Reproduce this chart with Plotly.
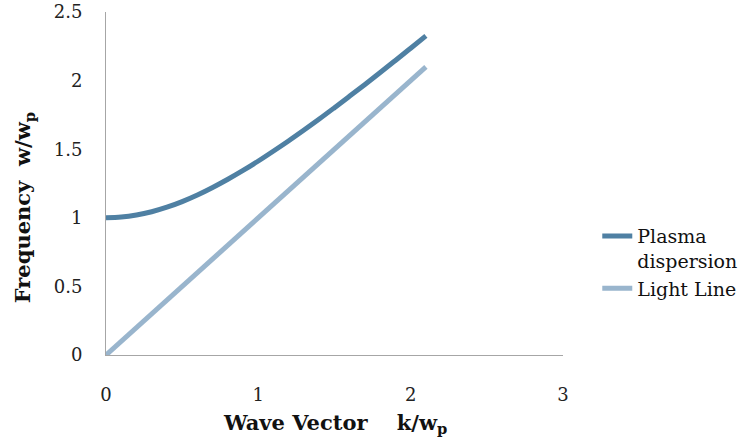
import plotly.graph_objects as go

# Normalized wave vector k/wp
k_vals = [0.0, 0.1, 0.2, 0.3, 0.4, 0.5, 0.6, 0.7, 0.8, 0.9, 1.0,
          1.1, 1.2, 1.3, 1.4, 1.5, 1.6, 1.7, 1.8, 1.9, 2.0, 2.1]
# Plasma dispersion frequency w/wp
plasma_w = [1.000, 1.005, 1.020, 1.044, 1.077, 1.118, 1.166, 1.221, 1.281, 1.345, 1.414,
            1.487, 1.562, 1.640, 1.720, 1.803, 1.887, 1.972, 2.059, 2.147, 2.236, 2.326]
# Light line w = k
light_w = [0.0, 0.1, 0.2, 0.3, 0.4, 0.5, 0.6, 0.7, 0.8, 0.9, 1.0,
           1.1, 1.2, 1.3, 1.4, 1.5, 1.6, 1.7, 1.8, 1.9, 2.0, 2.1]

x_ticks = [0, 1, 2, 3]
y_ticks = [0, 0.5, 1, 1.5, 2, 2.5]
y_tick_text = ["0", "0.5", "1", "1.5", "2", "2.5"]

FONT = "DejaVu Serif"

fig = go.Figure()
fig.add_trace(go.Scatter(
    x=k_vals, y=plasma_w, mode="lines", name="Plasma<br>dispersion",
    legendgroup="plasma",
    line=dict(color="#4f80a3", width=5, shape="spline"),
))
fig.add_trace(go.Scatter(
    x=k_vals, y=light_w, mode="lines", name="Light Line",
    legendgroup="light",
    line=dict(color="#99b5cd", width=5),
))

fig.update_layout(
    width=742, height=444,
    margin=dict(l=106, r=179, t=12, b=89, autoexpand=False),
    paper_bgcolor="white", plot_bgcolor="white",
    font=dict(family=FONT, size=14, color="#222"),
    legend=dict(x=1.075, y=0.402, xanchor="left", yanchor="top", valign="top",
                font=dict(family=FONT, size=19, color="#111"), tracegroupgap=0,
                bgcolor="rgba(0,0,0,0)"),
    xaxis=dict(range=[0, 3], tickvals=x_ticks, ticktext=[str(t) for t in x_ticks],
               showgrid=False, zeroline=False, showline=True, linecolor="#a6a6a6",
               linewidth=1, ticks="", ticklabelstandoff=23, automargin=False,
               tickfont=dict(family=FONT, size=18, color="#222")),
    yaxis=dict(range=[0, 2.5], tickvals=y_ticks, ticktext=y_tick_text,
               showgrid=False, zeroline=False, showline=True, linecolor="#a6a6a6",
               linewidth=1, ticks="", ticklabelstandoff=19, automargin=False,
               tickfont=dict(family=FONT, size=18, color="#222")),
    annotations=[
        dict(text="<b>Wave Vector    k/w<sub>p</sub></b>", xref="paper", yref="paper",
             x=0.5, y=-0.2, xanchor="center", yanchor="middle", showarrow=False,
             font=dict(family=FONT, size=21, color="#111")),
        dict(text="<b>Frequency  w/w<sub>p</sub></b>", xref="paper", yref="paper",
             x=-0.18, y=0.43, xanchor="center", yanchor="middle", showarrow=False,
             textangle=-90, font=dict(family=FONT, size=21, color="#111")),
    ],
)

fig.write_html("out.html")
